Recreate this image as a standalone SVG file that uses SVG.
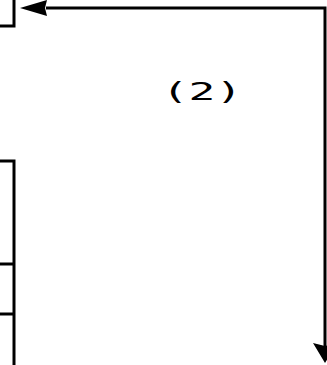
<svg xmlns="http://www.w3.org/2000/svg" width="327" height="365" viewBox="0 0 327 365">
<style>
.n{fill:#fff;stroke:#000;stroke-width:3}
.c{fill:none;stroke:#000;stroke-width:3}
.a{fill:#000;stroke:none}
.t{font-family:"DejaVu Sans Mono",monospace;font-size:25px;fill:#000;text-anchor:middle}
</style>
<rect width="327" height="365" fill="#fff"/>
<g id="node-top">
<rect class="n" x="-10" y="-10" width="24" height="36"/>
</g>
<g id="node-bottom">
<rect class="n" x="-10" y="161" width="24" height="220"/>
<line class="c" x1="0" y1="264" x2="14" y2="264"/>
<line class="c" x1="0" y1="314" x2="14" y2="314"/>
</g>
<g id="connectors">
<polyline class="c" points="46,8 325,8 325,346"/>
<polygon class="a" points="20,8 47,0 45,8 47,16"/>
<polygon class="a" points="325,363 313,343 325,346 337,343"/>
<g transform="translate(202,100) scale(1.78,1)">
<text class="t" x="0" y="0">(2)</text>
</g>
</g>
</svg>
